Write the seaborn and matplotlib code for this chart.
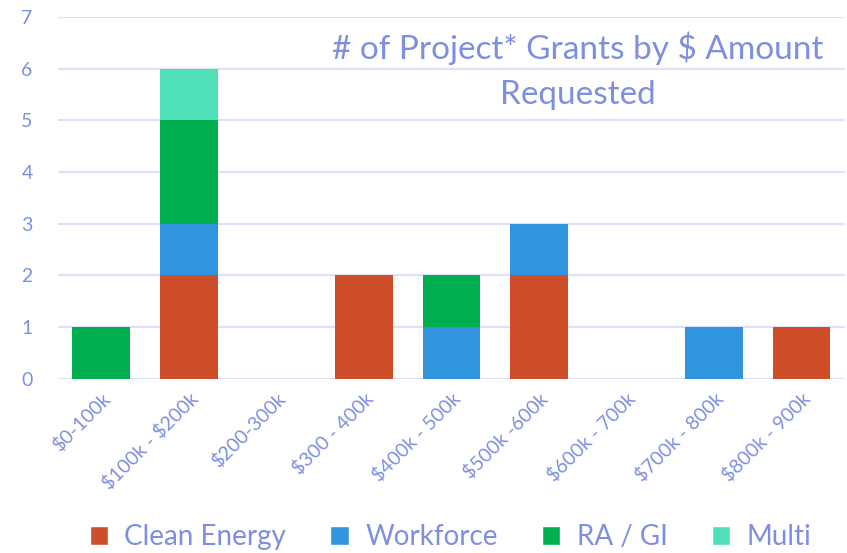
import numpy as np
import pandas as pd
import matplotlib
matplotlib.use("Agg")
import matplotlib.pyplot as plt
import seaborn as sns
from matplotlib.patches import Patch

# data ($ escaped so mathtext leaves it alone)
categories = ["\\$0-100k", "\\$100k - \\$200k", "\\$200-300k", "\\$300 - 400k", "\\$400k - 500k",
              "\\$500k -600k", "\\$600k - 700k", "\\$700k - 800k", "\\$800k - 900k"]
clean_energy = [0, 2, 0, 2, 0, 2, 0, 0, 1]
workforce = [0, 1, 0, 0, 1, 1, 0, 1, 0]
ra_gi = [1, 2, 0, 0, 1, 0, 0, 0, 0]
multi = [0, 1, 0, 0, 0, 0, 0, 0, 0]

series = ["Clean Energy", "Workforce", "RA / GI", "Multi"]
colors = ["#CD4E29", "#3094DE", "#00AF50", "#50E0B8"]
txt = "#7F8FE0"

sns.set_theme(style="white")
plt.rcParams["font.family"] = ["Lato", "DejaVu Sans"]

df = pd.DataFrame({"cat": categories, "Clean Energy": clean_energy,
                   "Workforce": workforce, "RA / GI": ra_gi, "Multi": multi})
cum = df[series].cumsum(axis=1)

fig = plt.figure(figsize=(8.47, 5.53), dpi=100)
ax = fig.add_axes([0.068, 0.315, 0.93, 0.654])

# draw tallest stack first so the lower segments sit on top
for s, c in reversed(list(zip(series, colors))):
    sns.barplot(x=df["cat"], y=cum[s], color=c, width=0.66, ax=ax,
                saturation=1, linewidth=0, zorder=3)

ax.set_ylim(0, 7)
ax.set_xlim(-0.5, 8.5)
ax.set_yticks(range(8))
ax.yaxis.grid(True, color="#DDE2F6", linewidth=1.5, zorder=0)
ax.set_axisbelow(True)
for sp in ax.spines.values():
    sp.set_visible(False)
ax.set_xlabel("")
ax.set_ylabel("")
ax.tick_params(axis="y", colors=txt, labelsize=14, length=0, pad=18)
ax.tick_params(axis="x", colors=txt, labelsize=14, length=0, pad=8)
plt.setp(ax.get_xticklabels(), rotation=45, ha="right", rotation_mode="anchor")

ax.text(0.66, 0.915, "# of Project* Grants by \\$ Amount", transform=ax.transAxes,
        ha="center", va="center", fontsize=24, color=txt)
ax.text(0.66, 0.785, "Requested", transform=ax.transAxes,
        ha="center", va="center", fontsize=24, color=txt)

handles = [Patch(facecolor=c, label=s) for s, c in zip(series, colors)]
leg = fig.legend(handles=handles, loc="lower center", bbox_to_anchor=(0.532, -0.04),
                 ncol=4, frameon=False, fontsize=20, handlelength=0.65,
                 handleheight=0.65, columnspacing=1.6, handletextpad=0.6)
for t in leg.get_texts():
    t.set_color(txt)

fig.savefig("out.png", dpi=100)
